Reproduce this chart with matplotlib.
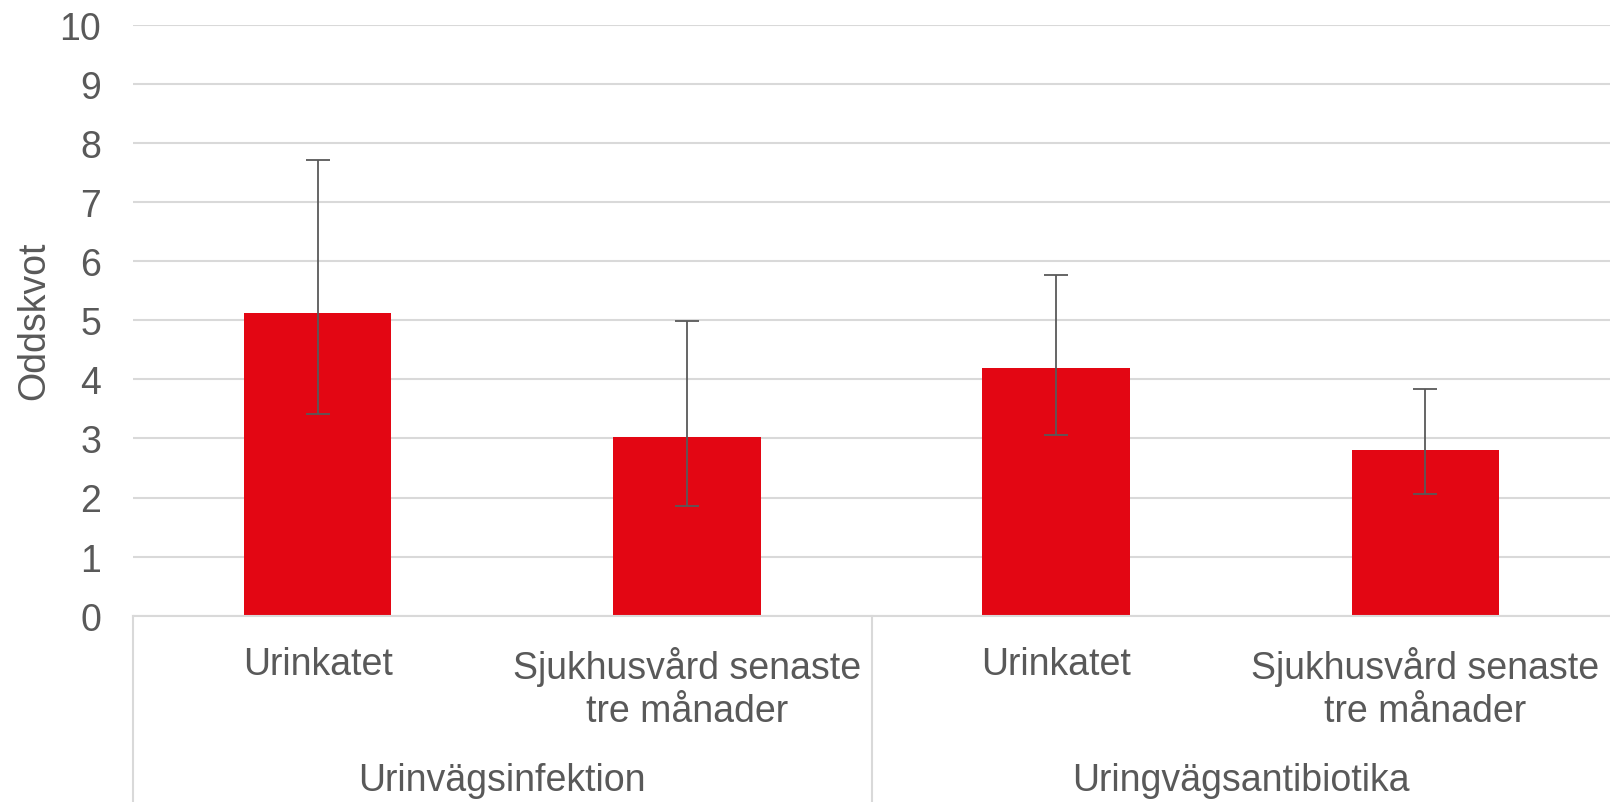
import numpy as np
import matplotlib
matplotlib.use('Agg')
import matplotlib.pyplot as plt

# Data
categories = ['Urinkatet', 'Sjukhusvård senaste\ntre månader',
              'Urinkatet', 'Sjukhusvård senaste\ntre månader']
groups = ['Urinvägsinfektion', 'Uringvägsantibiotika']
odds = [5.13, 3.02, 4.19, 2.81]
ci_low = [3.41, 1.85, 3.05, 2.06]
ci_high = [7.71, 4.98, 5.76, 3.83]

# Colours
bar_color = '#e30613'
text_color = '#595959'
grid_color = '#d9d9d9'

plt.rcParams['font.family'] = ['Liberation Sans', 'DejaVu Sans']

fig = plt.figure(figsize=(16.1, 8.03), dpi=100)
ax = fig.add_axes([133 / 1610, 1 - 616.7 / 803, 1 - 133 / 1610, 591 / 803])

x = np.arange(len(odds))
yerr = [np.array(odds) - np.array(ci_low), np.array(ci_high) - np.array(odds)]
ax.bar(x, odds, width=0.4, color=bar_color, zorder=2)
ax.errorbar(x, odds, yerr=yerr, fmt='none', ecolor=text_color,
            elinewidth=1.3, capsize=8.5, capthick=1.3, zorder=3)

ax.set_xlim(-0.5, len(odds) - 0.5)
ax.set_ylim(0, 10)
ax.set_yticks(range(0, 11))
ax.yaxis.grid(True, color=grid_color, linewidth=1.5, zorder=0)
ax.set_axisbelow(True)

for s in ['top', 'right', 'left']:
    ax.spines[s].set_visible(False)
ax.spines['bottom'].set_color(grid_color)
ax.spines['bottom'].set_linewidth(1.5)

ax.tick_params(axis='y', length=0, pad=23, labelsize=27, labelcolor=text_color)
ax.set_xticks(x)
ax.set_xticklabels(categories, fontsize=27, color=text_color, linespacing=1.25)
ax.tick_params(axis='x', length=0, pad=22)

ax.set_ylabel('Oddskvot', fontsize=27, color=text_color)
ax.yaxis.set_label_coords(-0.055, 0.5)

# Group labels and separators under the axis
trans = ax.get_xaxis_transform()
for i, g in enumerate(groups):
    ax.text(2 * i + 0.5, -0.278, g, transform=trans, ha='center', va='center',
            fontsize=27, color=text_color)
for xs in [-0.5, 1.5]:
    ax.plot([xs, xs], [0, -0.33], transform=trans, color=grid_color,
            linewidth=1.5, clip_on=False)

fig.savefig('out.png', dpi=100)
